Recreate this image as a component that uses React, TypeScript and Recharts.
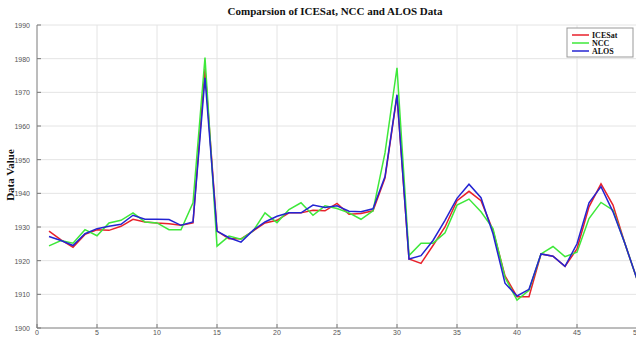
import React from "react";
import { LineChart, Line, XAxis, YAxis, CartesianGrid } from "recharts";

const xs = [1,2,3,4,5,6,7,8,9,10,11,12,13,14,15,16,17,18,19,20,21,22,23,24,25,26,27,28,29,30,31,32,33,34,35,36,37,38,39,40,41,42,43,44,45,46,47,48,49,50];
const icesat = [1928.8,1926.2,1924,1927.8,1929.2,1929,1930.2,1932.3,1931.5,1931.2,1931,1930.5,1931.2,1977,1928.8,1926.5,1926.5,1928.8,1931.2,1932,1934.2,1934.2,1935,1934.8,1937,1933.8,1934,1934.8,1944.5,1969,1920.5,1919.2,1924.5,1930,1937.8,1940.6,1937.8,1929,1915.5,1909.3,1909.3,1922,1921.3,1918.3,1923.5,1936,1942.8,1936.5,1925,1914.5];
const ncc = [1924.4,1926,1925.2,1929.2,1927.4,1931.2,1932,1934.2,1931.5,1931.2,1929.2,1929.2,1937.2,1980.3,1924.3,1927.3,1926.4,1928.8,1934.2,1931.3,1935.2,1937.2,1933.5,1936.3,1935.5,1934.2,1932.3,1934.8,1952,1977.3,1921.5,1925.2,1925.2,1928.3,1936.5,1938.3,1934.5,1929.5,1915,1908.3,1911.2,1922,1924.2,1921.2,1922.5,1932.5,1937.3,1935,1925,1914.5];
const alos = [1927.2,1926,1924.5,1928,1929.5,1930.2,1930.8,1933.5,1932.3,1932.3,1932.2,1930.5,1931.5,1974.3,1928.8,1926.8,1925.5,1929,1931.5,1933.2,1934.2,1934.2,1936.5,1935.8,1936.3,1934.7,1934.5,1935.4,1945,1969.3,1920.5,1921.5,1926,1932,1938.5,1942.7,1938.7,1928,1913.3,1909.5,1911.5,1922,1921.3,1918.3,1925,1937.2,1942,1934.5,1925,1914.5];
const xTicks = [0,5,10,15,20,25,30,35,40,45,50];
const yTicks = [1900,1910,1920,1930,1940,1950,1960,1970,1980,1990];

const data = xs.map((x, i) => ({ x, icesat: icesat[i], ncc: ncc[i], alos: alos[i] }));

const RED = "#e8212b";
const GREEN = "#3ee83a";
const BLUE = "#2424d2";

const YTick = (props: any) => {
  const { x, y, payload } = props;
  return (
    <g>
      <line x1={x + 6} x2={x + 10} y1={y} y2={y} stroke="#777" strokeWidth={1} />
      <text x={x - 1} y={y} dy={3} textAnchor="end" fontSize={7} fill="#555" fontFamily="Liberation Sans, Arial, sans-serif">{payload.value}</text>
    </g>
  );
};

const XTick = (props: any) => {
  const { x, y, payload } = props;
  return (
    <g>
      <line x1={x} x2={x} y1={y - 4} y2={y - 8} stroke="#777" strokeWidth={1} />
      <text x={x} y={y + 3} textAnchor="middle" fontSize={7} fill="#555" fontFamily="Liberation Sans, Arial, sans-serif">{payload.value}</text>
    </g>
  );
};

export default function App() {
  return (
    <div style={{ position: "absolute", left: 0, top: 0, width: 636, height: 342, overflow: "hidden", background: "#fff" }}>
      <LineChart width={640} height={342} data={data} margin={{ top: 25, right: 3, bottom: 0, left: 0 }}>
        <CartesianGrid stroke="#e4e4e4" strokeWidth={1} />
        <XAxis dataKey="x" type="number" domain={[0, 50]} ticks={xTicks} height={14} tickSize={0} tickMargin={4} tick={<XTick />} axisLine={{ stroke: "#888" }} interval={0} />
        <YAxis type="number" domain={[1900, 1990]} ticks={yTicks} width={37} tickSize={0} tickMargin={6} tick={<YTick />} axisLine={{ stroke: "#888" }} interval={0} />
        <Line type="linear" dataKey="icesat" stroke={RED} strokeWidth={1.5} dot={false} isAnimationActive={false} />
        <Line type="linear" dataKey="ncc" stroke={GREEN} strokeWidth={1.5} dot={false} isAnimationActive={false} />
        <Line type="linear" dataKey="alos" stroke={BLUE} strokeWidth={1.5} dot={false} isAnimationActive={false} />
        <text x={335} y={15} textAnchor="middle" fontSize={11} fontWeight="bold" fontFamily="Liberation Serif, Times New Roman, serif" fill="#111">Comparsion of ICESat, NCC and ALOS Data</text>
        <text x={14} y={175} textAnchor="middle" fontSize={11} fontWeight="bold" fontFamily="Liberation Serif, Times New Roman, serif" fill="#111" transform="rotate(-90 14 175)">Data Value</text>
        <g>
          <rect x={567} y={28} width={66} height={29} fill="#fff" stroke="#999" strokeWidth={1} />
          <line x1={572} x2={589} y1={35} y2={35} stroke={RED} strokeWidth={1.5} />
          <line x1={572} x2={589} y1={43} y2={43} stroke={GREEN} strokeWidth={1.5} />
          <line x1={572} x2={589} y1={51} y2={51} stroke={BLUE} strokeWidth={1.5} />
          <text x={592} y={38} fontSize={8} fontWeight="bold" fontFamily="Liberation Serif, Times New Roman, serif" fill="#111">ICESat</text>
          <text x={592} y={46} fontSize={8} fontWeight="bold" fontFamily="Liberation Serif, Times New Roman, serif" fill="#111">NCC</text>
          <text x={592} y={54} fontSize={8} fontWeight="bold" fontFamily="Liberation Serif, Times New Roman, serif" fill="#111">ALOS</text>
        </g>
      </LineChart>
    </div>
  );
}
